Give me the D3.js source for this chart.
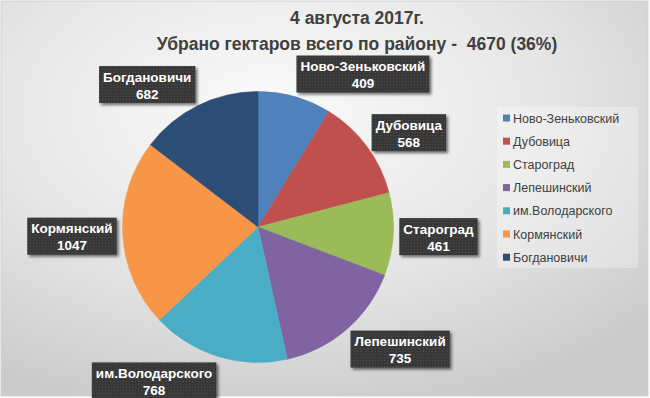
<!DOCTYPE html>
<html>
<head>
<meta charset="utf-8">
<script src="https://cdn.jsdelivr.net/npm/d3@7"></script>
<style>
  body { margin: 0; background: #fff; }
  svg { display: block; }
  text { font-family: "Liberation Sans Narrow", "Liberation Sans", Arial, sans-serif; }
</style>
</head>
<body>
<svg id="chart" width="650" height="398"></svg>
<script>
// data
var districts = ['Ново-Зеньковский', 'Дубовица', 'Староград', 'Лепешинский', 'им.Володарского', 'Кормянский', 'Богдановичи'];
var hectares = [409, 568, 461, 735, 768, 1047, 682];
var colors = ['#4F81BD', '#C0504D', '#9BBB59', '#8064A2', '#4BACC6', '#F79646', '#2C4D75'];
var titleLines = ['4 августа 2017г.', 'Убрано гектаров всего по району -  4670 (36%)'];

var W = 650, H = 398;
var cx = 258, cy = 227, r = 135.5;

var svg = d3.select('#chart');
var defs = svg.append('defs');

//background gradient, light in the upper middle, grey at the edges
var bg = defs.append('radialGradient').attr('id', 'bg')
  .attr('cx', '42%').attr('cy', '28%').attr('r', '78%');
bg.append('stop').attr('offset', '0%').attr('stop-color', '#fbfbfb');
bg.append('stop').attr('offset', '55%').attr('stop-color', '#e6e6e6');
bg.append('stop').attr('offset', '100%').attr('stop-color', '#cbcbcb');

//dotted texture for the label boxes
var pat = defs.append('pattern').attr('id', 'dots')
  .attr('width', 3).attr('height', 3).attr('patternUnits', 'userSpaceOnUse');
pat.append('rect').attr('width', 3).attr('height', 3).attr('fill', '#373737');
pat.append('rect').attr('width', 1).attr('height', 1).attr('fill', '#4e4e4e');

var sh = defs.append('filter').attr('id', 'shadow')
  .attr('x', '-20%').attr('y', '-20%').attr('width', '150%').attr('height', '160%');
sh.append('feDropShadow').attr('dx', 2).attr('dy', 2).attr('stdDeviation', 1.5)
  .attr('flood-color', '#000').attr('flood-opacity', 0.55);

svg.append('rect').attr('x', 1).attr('y', 1).attr('width', W - 3).attr('height', H - 3)
  .attr('fill', 'url(#bg)').attr('stroke', '#d0d0d0').attr('stroke-width', 1);

//title
svg.append('g').selectAll('text').data(titleLines).enter().append('text')
  .attr('x', 357).attr('y', function (d, i) { return 24 + i * 26; })
  .attr('text-anchor', 'middle')
  .style('white-space', 'pre')
  .attr('font-size', 17.5).attr('font-weight', 'bold').attr('fill', '#404040')
  .text(function (d) { return d; });

//pie
var pie = d3.pie().sort(null).value(function (d) { return d; });
var arcs = pie(hectares);
var arc = d3.arc().innerRadius(0).outerRadius(r);

var g = svg.append('g').attr('transform', 'translate(' + cx + ',' + cy + ')');
g.selectAll('path').data(arcs).enter().append('path')
  .attr('d', arc)
  .attr('fill', function (d, i) { return colors[i]; })
  .attr('stroke', function (d, i) { return colors[i]; })
  .attr('stroke-width', 0.5);

//data labels, placed outside each slice
var lab = svg.append('g');
arcs.forEach(function (d, i) {
  var a = (d.startAngle + d.endAngle) / 2;
  var lg = lab.append('g');
  var t1 = lg.append('text').attr('text-anchor', 'middle').attr('font-size', 13.5)
    .attr('font-weight', 'bold').attr('fill', '#fff').text(districts[i]);
  var t2 = lg.append('text').attr('text-anchor', 'middle').attr('font-size', 13.5)
    .attr('font-weight', 'bold').attr('fill', '#fff').text(hectares[i]);
  var w = Math.max(t1.node().getComputedTextLength(), t2.node().getComputedTextLength()) + 8;
  var h = 37;
  var s = Math.sin(a), c = Math.cos(a);
  var px = cx + (r + 6) * s, py = cy - (r + 6) * c;
  var bx = px + (Math.abs(s) < 0.05 ? 0 : Math.sign(s)) * w / 2;
  var by = py - c * h / 2 + 1;
  lg.insert('rect', 'text')
    .attr('x', bx - w / 2).attr('y', by - h / 2).attr('width', w).attr('height', h)
    .attr('fill', 'url(#dots)').attr('filter', 'url(#shadow)');
  t1.attr('x', bx).attr('y', by - 3);
  t2.attr('x', bx).attr('y', by + 14);
});

//legend
var leg = svg.append('g');
leg.append('rect').attr('x', 497).attr('y', 107).attr('width', 141).attr('height', 161)
  .attr('fill', '#fff').attr('fill-opacity', 0.3);
var items = leg.selectAll('g.item').data(districts).enter().append('g').attr('class', 'item')
  .attr('transform', function (d, i) { return 'translate(503,' + (118 + i * 23.2) + ')'; });
items.append('rect').attr('x', 0).attr('y', -3.5).attr('width', 7).attr('height', 7)
  .attr('fill', function (d, i) { return colors[i]; });
items.append('text').attr('x', 10).attr('y', 4.5).attr('font-size', 12.5).attr('fill', '#404040')
  .text(function (d) { return d; });
</script>
</body>
</html>
